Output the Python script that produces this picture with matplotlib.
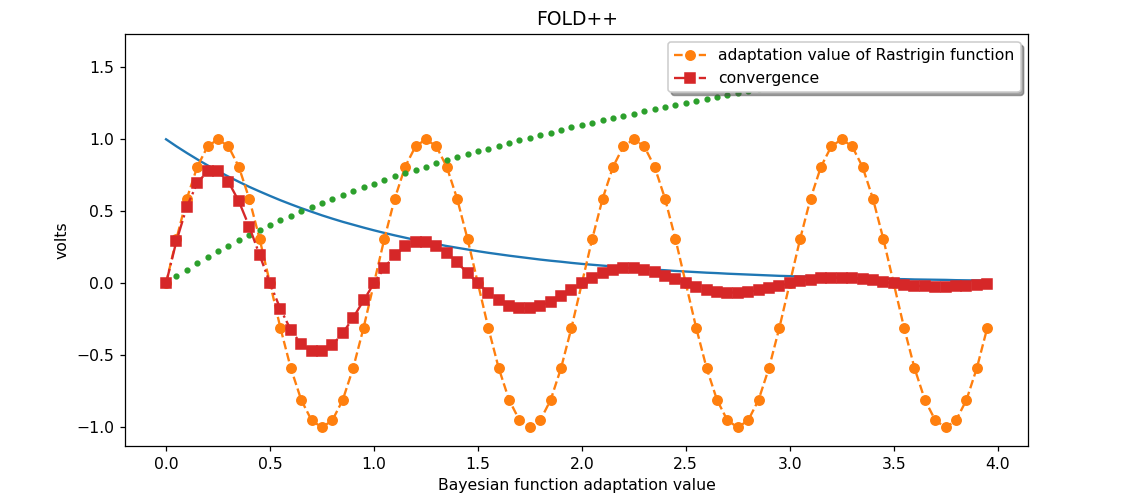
import matplotlib
matplotlib.use("Agg")
import matplotlib.pyplot as plt

# time axis (x values, step 0.05)
t = [0.00, 0.05, 0.10, 0.15, 0.20, 0.25, 0.30, 0.35, 0.40, 0.45,
     0.50, 0.55, 0.60, 0.65, 0.70, 0.75, 0.80, 0.85, 0.90, 0.95,
     1.00, 1.05, 1.10, 1.15, 1.20, 1.25, 1.30, 1.35, 1.40, 1.45,
     1.50, 1.55, 1.60, 1.65, 1.70, 1.75, 1.80, 1.85, 1.90, 1.95,
     2.00, 2.05, 2.10, 2.15, 2.20, 2.25, 2.30, 2.35, 2.40, 2.45,
     2.50, 2.55, 2.60, 2.65, 2.70, 2.75, 2.80, 2.85, 2.90, 2.95,
     3.00, 3.05, 3.10, 3.15, 3.20, 3.25, 3.30, 3.35, 3.40, 3.45,
     3.50, 3.55, 3.60, 3.65, 3.70, 3.75, 3.80, 3.85, 3.90, 3.95]

# blue solid decay curve
decay = [1.000, 0.951, 0.905, 0.861, 0.819, 0.779, 0.741, 0.705, 0.670, 0.638,
         0.607, 0.577, 0.549, 0.522, 0.497, 0.472, 0.449, 0.427, 0.407, 0.387,
         0.368, 0.350, 0.333, 0.317, 0.301, 0.287, 0.273, 0.259, 0.247, 0.235,
         0.223, 0.212, 0.202, 0.192, 0.183, 0.174, 0.165, 0.157, 0.150, 0.142,
         0.135, 0.129, 0.123, 0.117, 0.111, 0.105, 0.100, 0.095, 0.091, 0.086,
         0.082, 0.078, 0.074, 0.071, 0.067, 0.064, 0.061, 0.058, 0.055, 0.052,
         0.050, 0.047, 0.045, 0.043, 0.041, 0.039, 0.037, 0.035, 0.033, 0.032,
         0.030, 0.029, 0.027, 0.026, 0.025, 0.024, 0.022, 0.021, 0.020, 0.019]

# orange dashed with circles
rastrigin = [0.000, 0.309, 0.588, 0.809, 0.951, 1.000, 0.951, 0.809, 0.588, 0.309,
             0.000, -0.309, -0.588, -0.809, -0.951, -1.000, -0.951, -0.809, -0.588, -0.309,
             0.000, 0.309, 0.588, 0.809, 0.951, 1.000, 0.951, 0.809, 0.588, 0.309,
             0.000, -0.309, -0.588, -0.809, -0.951, -1.000, -0.951, -0.809, -0.588, -0.309,
             0.000, 0.309, 0.588, 0.809, 0.951, 1.000, 0.951, 0.809, 0.588, 0.309,
             0.000, -0.309, -0.588, -0.809, -0.951, -1.000, -0.951, -0.809, -0.588, -0.309,
             0.000, 0.309, 0.588, 0.809, 0.951, 1.000, 0.951, 0.809, 0.588, 0.309,
             0.000, -0.309, -0.588, -0.809, -0.951, -1.000, -0.951, -0.809, -0.588, -0.309]

# green dots
growth = [0.000, 0.049, 0.095, 0.140, 0.182, 0.223, 0.262, 0.300, 0.336, 0.372,
          0.405, 0.438, 0.470, 0.501, 0.531, 0.560, 0.588, 0.615, 0.642, 0.668,
          0.693, 0.718, 0.742, 0.765, 0.788, 0.811, 0.833, 0.854, 0.875, 0.896,
          0.916, 0.936, 0.956, 0.975, 0.993, 1.012, 1.030, 1.047, 1.065, 1.082,
          1.099, 1.115, 1.131, 1.147, 1.163, 1.179, 1.194, 1.209, 1.224, 1.238,
          1.253, 1.267, 1.281, 1.295, 1.308, 1.322, 1.335, 1.348, 1.361, 1.374,
          1.386, 1.399, 1.411, 1.423, 1.435, 1.447, 1.459, 1.470, 1.482, 1.493,
          1.504, 1.515, 1.526, 1.537, 1.548, 1.558, 1.569, 1.579, 1.589, 1.599]

# red dash-dot with squares
convergence = [0.000, 0.294, 0.532, 0.696, 0.779, 0.779, 0.705, 0.570, 0.394, 0.197,
               0.000, -0.178, -0.323, -0.422, -0.472, -0.472, -0.427, -0.346, -0.239, -0.119,
               0.000, 0.108, 0.196, 0.256, 0.286, 0.287, 0.259, 0.210, 0.145, 0.072,
               0.000, -0.066, -0.119, -0.155, -0.174, -0.174, -0.157, -0.127, -0.088, -0.044,
               0.000, 0.040, 0.072, 0.094, 0.105, 0.105, 0.095, 0.077, 0.053, 0.027,
               0.000, -0.024, -0.044, -0.057, -0.064, -0.064, -0.058, -0.047, -0.032, -0.016,
               0.000, 0.015, 0.026, 0.035, 0.039, 0.039, 0.035, 0.028, 0.020, 0.010,
               0.000, -0.009, -0.016, -0.021, -0.023, -0.024, -0.021, -0.017, -0.012, -0.006]

DPI = 112.2
fig = plt.figure(figsize=(1122 / DPI, 499 / DPI), dpi=DPI)
ax = fig.add_axes([0.1114, 0.106, 0.8051, 0.8253])

ax.plot(t, decay)
ax.plot(t, rastrigin, "--o", label="adaptation value of Rastrigin function")
ax.plot(t, growth, ".", linestyle="None")
ax.plot(t, convergence, "-.s", label="convergence")

ax.set_title("FOLD++")
ax.set_xlabel("Bayesian function adaptation value")
ax.set_ylabel("volts")
ax.legend(loc="upper right", shadow=True)

fig.savefig("out.png", dpi=DPI)
